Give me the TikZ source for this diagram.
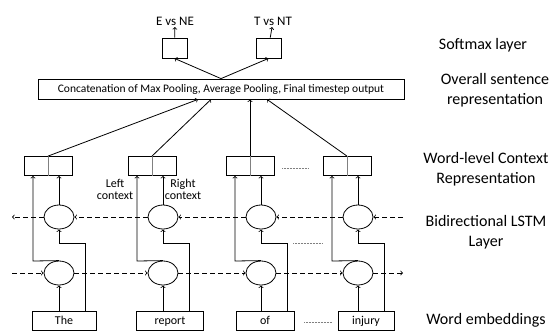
\documentclass[tikz,border=0pt]{standalone}
\usepackage{fontspec}
\setmainfont{Carlito}
\usetikzlibrary{shapes,arrows,positioning,calc}

\tikzset{
  wordbox/.style={draw, line width=0.8pt, minimum height=19pt, inner sep=0pt, text height=8.5pt, text depth=2.5pt, font=\fontsize{12}{14}\selectfont},
  cell/.style={draw, ellipse, line width=0.8pt, minimum width=30pt, minimum height=24pt, inner sep=0pt},
  ctxbox/.style={draw, line width=0.8pt, minimum width=48pt, minimum height=19pt, inner sep=0pt},
  smbox/.style={draw, line width=0.8pt, minimum width=25pt, minimum height=20pt, inner sep=0pt},
  flow/.style={line width=0.8pt, dash pattern=on 5pt off 3pt},
  layerlabel/.style={align=center, font=\fontsize{16}{20}\selectfont},
  note/.style={align=center, font=\fontsize{12}{12}\selectfont, inner sep=0pt}
}

\begin{document}
\begin{tikzpicture}[x=1pt,y=-1pt,>=to,line width=0.8pt]
  \useasboundingbox (0,0) rectangle (550,333);

  % Concatenation
  \node[draw, line width=0.8pt, minimum width=366pt, minimum height=20pt, inner sep=0pt,
        font=\fontsize{11.5}{13}\selectfont] (cat) at (221,89)
        {Concatenation of Max Pooling, Average Pooling, Final timestep output};

  % Softmax
  \node[smbox] (s1) at (174.5,48) {};
  \node[smbox] (s2) at (268.5,48) {};
  \node[anchor=south, inner sep=1pt, font=\fontsize{13}{15}\selectfont] (o1) at (175,27) {E vs NE};
  \node[anchor=south, inner sep=1pt, font=\fontsize{13}{15}\selectfont] (o2) at (273,27) {T vs NT};
  \draw[->] (cat.north) -- (s1.south);
  \draw[->] (cat.north) -- (s2.south);
  \draw[->] (s1) -- (o1);
  \draw[->] (s2) -- (o2);

  % Words, LSTM cells, context
  \foreach \i/\ex/\word/\ww/\wo/\dx in {1/59/The/64/5/-23, 2/163/report/67/7/-10,
                                       3/261/of/58/4/29, 4/358/injury/56/8/46} {
    \node[wordbox, minimum width=\ww pt] (w\i) at (\ex+\wo,321) {\word};
    \node[cell] (f\i) at (\ex,273) {};
    \node[cell] (b\i) at (\ex,217) {};
    \node[ctxbox] (c\i) at (\ex-11,166) {};
    \draw[black!50] (c\i.north) -- (c\i.south);
    \coordinate (r\i) at (\ex+26,243);
    \coordinate (l\i) at (\ex-26,261);
    \draw[->] (w\i.north -| f\i) -- (f\i.south);
    \draw[->] (w\i.north -| r\i) -- (r\i) -- (r\i -| b\i) -- (b\i.south);
    \draw[->] (f\i.north) -- (l\i) -- (l\i |- c\i.south);
    \draw[->] (b\i.north) -- (b\i.north |- c\i.south);
    \draw[->] (c\i.north) -- ($(cat.south)+(\dx,0)$);
  }

  % Forward and backward directions
  \coordinate (fl) at (12,273);
  \coordinate (fr) at (403,273);
  \coordinate (bl) at (12,217);
  \coordinate (br) at (403,217);
  \draw[flow,->] (fl) -- (f1);
  \draw[flow,->] (f4) -- (fr);
  \draw[flow,->] (br) -- (b4);
  \draw[flow,->] (b1) -- (bl);
  \foreach \i/\j in {1/2,2/3,3/4} {
    \draw[flow,->] (f\i) -- (f\j);
    \draw[flow,->] (b\j) -- (b\i);
  }

  % Ellipsis between of and injury
  \draw[gray, densely dotted, line width=0.5pt] (282,168) -- (309,168);
  \draw[gray, densely dotted, line width=0.5pt] (293,243) -- (322,243);
  \draw[gray, densely dotted, line width=0.5pt] (304,322) -- (332,322);

  % Context notes
  \node[note] (lc) at (115,189) {Left\\context};
  \node[note] (rc) at (183,189) {Right\\context};

  % Layer labels
  \node[layerlabel] (lsm) at (483,45) {Softmax layer};
  \node[layerlabel] (lsr) at (495,90) {Overall sentence\\representation};
  \node[layerlabel] (lwc) at (486,169) {Word-level Context\\Representation};
  \node[layerlabel] (lbi) at (486,232) {Bidirectional LSTM\\Layer};
  \node[layerlabel] (lwe) at (486,320) {Word embeddings};
\end{tikzpicture}
\end{document}
